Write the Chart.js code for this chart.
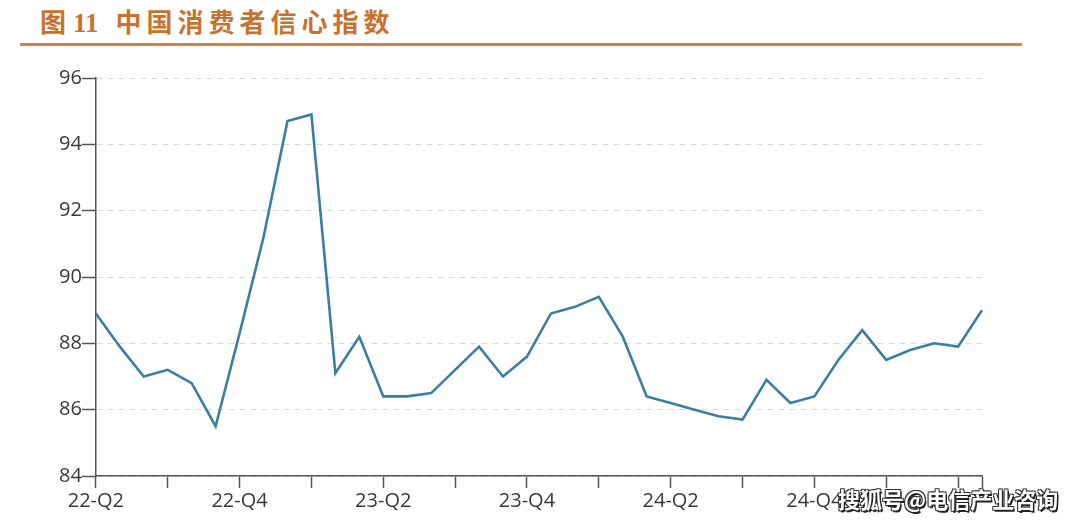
<!DOCTYPE html>
<html>
<head>
<meta charset="utf-8">
<script src="https://cdn.jsdelivr.net/npm/chart.js@4/dist/chart.umd.min.js"></script>
<style>
  html, body { margin: 0; padding: 0; background: #fff; }
  body { width: 1075px; height: 526px; position: relative; overflow: hidden; }
  #title { position: absolute; left: 40px; top: 2px; font-family: "Noto Sans CJK SC", sans-serif; font-weight: 700; font-size: 26px; color: #C8722E; white-space: nowrap; }
  #title .fig { letter-spacing: 0; }
  #title .num { font-family: "Liberation Serif", serif; font-weight: 700; font-size: 27px; margin-left: 7px; }
  #title .txt { margin-left: 17px; letter-spacing: 5px; }
  #rule { position: absolute; left: 20px; top: 43px; width: 1002px; height: 3px; background: #D2833F; }
  #wrap { position: absolute; left: 0; top: 50px; width: 1075px; height: 476px; }
  #wm { position: absolute; left: 838px; top: 482px; font-family: "Noto Sans CJK SC", sans-serif; font-weight: 700; font-size: 22px; color: #fff; white-space: nowrap;
        text-shadow: 1.5px 1.5px 0 #222, -1px -1px 0 #333, 1px -1px 0 #333, -1px 1px 0 #333, 1px 1px 0 #333; }
</style>
</head>
<body>
<div id="title"><span class="fig">图</span><span class="num">11</span><span class="txt">中国消费者信心指数</span></div>
<div id="rule"></div>
<div id="wrap"><canvas id="c"></canvas></div>
<div id="wm">搜狐号@电信产业咨询</div>
<script>
const months = ['2022-06','2022-07','2022-08','2022-09','2022-10','2022-11','2022-12',
  '2023-01','2023-02','2023-03','2023-04','2023-05','2023-06','2023-07','2023-08','2023-09','2023-10','2023-11','2023-12',
  '2024-01','2024-02','2024-03','2024-04','2024-05','2024-06','2024-07','2024-08','2024-09','2024-10','2024-11','2024-12',
  '2025-01','2025-02','2025-03','2025-04','2025-05','2025-06','2025-07'];
const confidence = [88.9, 87.9, 87.0, 87.2, 86.8, 85.5, 88.3, 91.2, 94.7, 94.9, 87.1, 88.2, 86.4, 86.4, 86.5, 87.2, 87.9, 87.0, 87.6,
  88.9, 89.1, 89.4, 88.2, 86.4, 86.2, 86.0, 85.8, 85.7, 86.9, 86.2, 86.4, 87.5, 88.4, 87.5, 87.8, 88.0, 87.9, 89.0];
const xTickLabels = ['22-Q2','','','','','','22-Q4','','','','','','23-Q2','','','','','','23-Q4','','','','','','24-Q2','','','','','','24-Q4','','','','','','',''];
const yTicks = [84, 86, 88, 90, 92, 94, 96];

new Chart(document.getElementById('c'), {
  type: 'line',
  data: {
    labels: months,
    datasets: [{
      data: confidence,
      borderColor: '#3A7FA1',
      borderWidth: 2.6,
      pointRadius: 0,
      tension: 0,
      fill: false
    }]
  },
  options: {
    responsive: true,
    maintainAspectRatio: false,
    animation: false,
    layout: { padding: { left: 59, right: 93, top: 28, bottom: 12 } },
    plugins: { legend: { display: false }, tooltip: { enabled: false } },
    scales: {
      x: {
        offset: false,
        grid: {
          drawOnChartArea: false,
          drawTicks: true,
          tickLength: 12,
          tickWidth: 1.5,
          tickColor: (ctx) => (ctx.index % 3 === 0 || ctx.index === months.length - 1) ? '#555' : 'rgba(0,0,0,0)'
        },
        border: { display: true, color: '#555', width: 1.5 },
        ticks: {
          autoSkip: false,
          maxRotation: 0,
          padding: 1,
          color: '#3a3a3a',
          font: { family: 'Open Sans', size: 20 },
          callback: (v, i) => xTickLabels[i]
        }
      },
      y: {
        min: 84,
        max: 96,
        afterBuildTicks: (axis) => { axis.ticks = yTicks.map(v => ({ value: v })); },
        grid: {
          color: '#d9d9d9',
          lineWidth: 1,
          drawTicks: true,
          tickLength: 14,
          tickColor: '#555',
          tickWidth: 1.5,
          tickBorderDash: []
        },
        border: { display: true, color: '#555', width: 1.5, dash: [6, 5] },
        ticks: {
          padding: 0,
          color: '#3a3a3a',
          font: { family: 'Open Sans', size: 20 }
        }
      }
    }
  }
});
</script>
</body>
</html>
